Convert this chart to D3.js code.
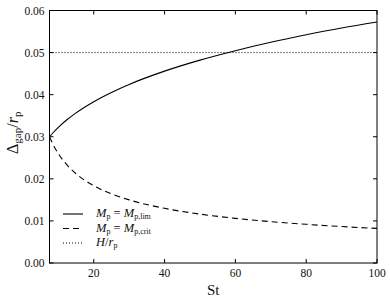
<!DOCTYPE html>
<html><head><meta charset="utf-8">
<script src="https://cdn.jsdelivr.net/npm/d3@7"></script>
<style>body{margin:0;background:#fff}svg{display:block}text{font-family:"Liberation Serif","DejaVu Serif",serif;fill:#111}</style>
</head><body>
<script>
const stValues = [7.5, 8.5, 10, 12.5, 15, 20, 25, 30, 40, 50, 60, 70, 80, 90, 100];
const gapLim   = [0.0300, 0.03095, 0.03224, 0.03409, 0.03568, 0.03834, 0.04054, 0.04243, 0.04559, 0.04821, 0.05045, 0.05244, 0.05422, 0.05584, 0.05725];
const gapCrit  = [0.0300, 0.02818, 0.02598, 0.02324, 0.02121, 0.01837, 0.01643, 0.01500, 0.01299, 0.01162, 0.01061, 0.00982, 0.00919, 0.00866, 0.00822];
const hOverR   = 0.05;
const xTicks = [20, 40, 60, 80, 100];
const yTicks = [0, 0.01, 0.02, 0.03, 0.04, 0.05, 0.06];

const W = 390, H = 302;
const m = {left: 49.5, right: 13, top: 10.5, bottom: 39};
const svg = d3.select("body").append("svg").attr("width", W).attr("height", H);
const x = d3.scaleLinear().domain([7.5, 100]).range([m.left, W - m.right]);
const y = d3.scaleLinear().domain([0, 0.06]).range([H - m.bottom, m.top]);
const x0 = m.left, x1 = W - m.right, y0 = H - m.bottom, y1 = m.top;

const line = d3.line().x((d, i) => x(stValues[i])).y(d => y(d)).curve(d3.curveMonotoneX);
const g = svg.append("g");
g.append("path").attr("d", line(gapLim)).attr("fill", "none").attr("stroke", "#000").attr("stroke-width", 1.1);
g.append("path").attr("d", line(gapCrit)).attr("fill", "none").attr("stroke", "#000").attr("stroke-width", 1.1).attr("stroke-dasharray", "6,4");
g.append("line").attr("x1", x0).attr("x2", x1).attr("y1", y(hOverR)).attr("y2", y(hOverR))
  .attr("stroke", "#000").attr("stroke-width", 1).attr("stroke-dasharray", "1,2");

// frame
svg.append("rect").attr("x", x0).attr("y", y1).attr("width", x1 - x0).attr("height", y0 - y1)
  .attr("fill", "none").attr("stroke", "#000").attr("stroke-width", 1);

// ticks inward all sides
const tl = 4;
xTicks.forEach(t => {
  svg.append("line").attr("x1", x(t)).attr("x2", x(t)).attr("y1", y0).attr("y2", y0 - tl).attr("stroke", "#000");
  svg.append("line").attr("x1", x(t)).attr("x2", x(t)).attr("y1", y1).attr("y2", y1 + tl).attr("stroke", "#000");
  svg.append("text").attr("x", x(t)).attr("y", y0 + 14).attr("text-anchor", "middle").attr("font-size", 11.5).text(t);
});
yTicks.forEach(t => {
  svg.append("line").attr("x1", x0).attr("x2", x0 + tl).attr("y1", y(t)).attr("y2", y(t)).attr("stroke", "#000");
  svg.append("line").attr("x1", x1).attr("x2", x1 - tl).attr("y1", y(t)).attr("y2", y(t)).attr("stroke", "#000");
  svg.append("text").attr("x", x0 - 5).attr("y", y(t) + 4).attr("text-anchor", "end").attr("font-size", 11.5).text(d3.format(".2f")(t));
});

// axis labels
svg.append("text").attr("x", (x0 + x1) / 2).attr("y", 295).attr("text-anchor", "middle").attr("font-size", 15).text("St");
const yl = svg.append("text").attr("transform", `translate(18,${(y0 + y1) / 2 - 4}) rotate(-90)`).attr("text-anchor", "middle").attr("font-size", 16);
yl.append("tspan").text("Δ");
yl.append("tspan").attr("font-size", 11).attr("dy", 3).text("gap");
yl.append("tspan").attr("dy", -3).text("/");
yl.append("tspan").attr("font-style", "italic").text("r");
yl.append("tspan").attr("font-size", 11).attr("dy", 3).text("p");

// legend
const legend = [
  {dash: null, main: "M", sub: "p", eq: " = ", main2: "M", sub2: "p,lim"},
  {dash: "6,4", main: "M", sub: "p", eq: " = ", main2: "M", sub2: "p,crit"},
  {dash: "1,2", main: "H", sub: null, eq: "/", main2: "r", sub2: "p"}
];
const ly = [214, 228.5, 243];
legend.forEach((d, i) => {
  svg.append("line").attr("x1", 63).attr("x2", 83).attr("y1", ly[i]).attr("y2", ly[i])
    .attr("stroke", "#000").attr("stroke-width", 1.1).attr("stroke-dasharray", d.dash);
  const t = svg.append("text").attr("x", 96).attr("y", ly[i] + 3).attr("font-size", 12.5);
  t.append("tspan").attr("font-style", "italic").text(d.main);
  if (d.sub) { t.append("tspan").attr("font-size", 8).attr("dy", 2).text(d.sub); t.append("tspan").attr("dy", -2).text(d.eq); }
  else t.append("tspan").text(d.eq);
  t.append("tspan").attr("font-style", "italic").text(d.main2);
  t.append("tspan").attr("font-size", 8).attr("dy", 2).text(d.sub2);
});
</script>
</body></html>
